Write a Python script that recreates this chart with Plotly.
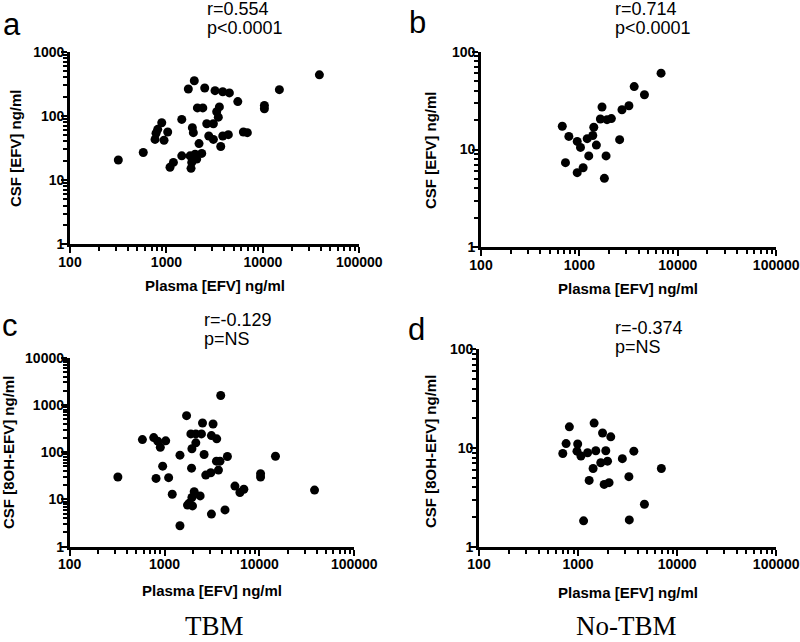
import plotly.graph_objects as go

W, H = 800, 642

# ---------------- data ----------------
# Panel a: TBM, CSF [EFV] vs Plasma [EFV]
a_plasma = [317, 575, 762, 780, 812, 894, 944, 1031, 1089, 1181, 1442, 1442, 1687, 1758, 1799,
            1829, 1857, 1901, 1901, 1945, 1982, 2061, 2094, 2178, 2324, 2384, 2495, 2618, 2749,
            3068, 3068, 3190, 3321, 3452, 3540, 3657, 3836, 3836, 4385, 4495, 5495, 6280, 6905,
            10370, 10370, 14830, 38560]
a_csf = [20.5, 26.9, 43, 53.5, 61.6, 78, 41.7, 56, 15.8, 18.8, 88, 23.8, 262, 23.8, 15.2,
         18.8, 65.5, 54.8, 21.2, 352, 25.3, 21.2, 133, 37, 26, 133, 272, 75.5, 48.6,
         75.5, 43, 247, 116, 95.5, 138, 33.3, 238, 48.6, 51, 228, 167, 56, 54.8,
         145, 129, 256, 436]

# Panel b: No-TBM, CSF [EFV] vs Plasma [EFV]
b_plasma = [670, 722, 781, 950, 950, 1026, 1091, 1200, 1245, 1368, 1400, 1488, 1633, 1698,
            1794, 1866, 1909, 2113, 2564, 2708, 3186, 3605, 4581, 6760]
b_csf = [17.3, 7.33, 13.6, 12.1, 5.8, 10.5, 6.5, 12.9, 8.6, 13.9, 16.9, 11.1, 20.5, 27.2,
         5.07, 8.6, 20.2, 20.7, 12.6, 25.5, 28, 44, 36.3, 60.3]

# Panel c: TBM, CSF [8OH-EFV] vs Plasma [EFV]
c_plasma = [322, 584, 769, 813, 847, 902, 955, 1028, 1104, 1205, 1453, 1453, 1706, 1745, 1817,
            1893, 1925, 1942, 1942, 1970, 2053, 2135, 2135, 2372, 2449, 2512, 2612, 2717, 3069,
            3118, 3118, 3245, 3523, 3546, 3698, 3840, 3908, 4337, 4595, 5517, 6230, 6853,
            10280, 10280, 14760, 38100]
c_csf = [29.8, 185, 204, 27.9, 171, 127, 50.7, 174, 28.9, 12.9, 86.5, 2.77, 593, 7.6, 8.3,
         244, 46, 118, 11, 7.3, 14.6, 244, 158, 11.9, 244, 416, 89.5, 32.8, 36.8,
         225, 4.9, 396, 64.7, 192, 41.8, 64.7, 1585, 6.0, 81, 19.2, 14, 16.4,
         35, 29.8, 82, 15.8]

# Panel d: No-TBM, CSF [8OH-EFV] vs Plasma [EFV]
d_plasma = [701, 757, 817, 975, 991, 1069, 1137, 1248, 1294, 1419, 1452, 1510, 1695, 1766,
            1834, 1905, 1983, 2055, 2138, 2799, 3259, 3289, 3656, 4676, 6930]
d_csf = [8.8, 11.1, 16.4, 9.3, 11.0, 8.3, 1.83, 8.95, 4.7, 6.2, 17.9, 9.4, 7.1, 14.2,
         4.28, 9.4, 7.36, 4.46, 13.0, 7.8, 5.13, 1.87, 9.3, 2.69, 6.2]

x_tickvals = [100, 1000, 10000, 100000]
x_ticktext = ["100", "1000", "10000", "100000"]
y_tickvals_3 = [1, 10, 100, 1000]
y_ticktext_3 = ["1", "10", "100", "1000"]
y_tickvals_2 = [1, 10, 100]
y_ticktext_2 = ["1", "10", "100"]
y_tickvals_4 = [1, 10, 100, 1000, 10000]
y_ticktext_4 = ["1", "10", "100", "1000", "10000"]

panel_letters = ["a", "b", "c", "d"]
stats_r = ["r=0.554", "r=0.714", "r=-0.129", "r=-0.374"]
stats_p = ["p<0.0001", "p<0.0001", "p=NS", "p=NS"]
x_title = "Plasma [EFV] ng/ml"
y_titles = ["CSF [EFV] ng/ml", "CSF [EFV] ng/ml", "CSF [8OH-EFV] ng/ml", "CSF [8OH-EFV] ng/ml"]
group_labels = ["TBM", "No-TBM"]

# ---------------- layout helpers (pixel -> paper) ----------------
def px(x):
    return x / W

def py(y):
    return 1 - y / H

def minor_vals(lo_exp, hi_exp):
    return [m * 10 ** e for e in range(lo_exp, hi_exp) for m in range(2, 10)]

# plot boxes in pixels: (left, right, top, bottom)
boxes = [
    (70, 359.3, 51.7, 244.2),
    (481, 776.2, 51.7, 247.3),
    (69.7, 354.3, 357.7, 546.7),
    (479, 776.2, 349.4, 546.7),
]
yranges = [[0, 3], [0, 2], [0, 4], [0, 2]]
yticks = [(y_tickvals_3, y_ticktext_3), (y_tickvals_2, y_ticktext_2),
          (y_tickvals_4, y_ticktext_4), (y_tickvals_2, y_ticktext_2)]
data_x = [a_plasma, b_plasma, c_plasma, d_plasma]
data_y = [a_csf, b_csf, c_csf, d_csf]

tickfont = dict(family="Liberation Sans, Arial, sans-serif", size=14, color="black", weight="bold")

def axis_style(rng, standoff):
    return dict(
        type="log", showline=True, linewidth=2.8, linecolor="black", mirror=False,
        ticks="outside", ticklen=6, tickwidth=2.2, tickcolor="black", automargin=False,
        showgrid=False, zeroline=False, tickfont=tickfont, fixedrange=True,
        ticklabelstandoff=standoff,
        minor=dict(ticks="outside", ticklen=4, tickwidth=1.5, tickcolor="black",
                   tickmode="array", tickvals=minor_vals(rng[0], rng[1]), showgrid=False),
    )

fig = go.Figure()
layout = dict(width=W, height=H, margin=dict(l=0, r=0, t=0, b=0, autoexpand=False),
              paper_bgcolor="white", plot_bgcolor="white", showlegend=False)

for i in range(4):
    n = "" if i == 0 else str(i + 1)
    l, r, t, b = boxes[i]
    xa = axis_style([2, 5], -3)
    xa.update(domain=[px(l), px(r)], range=[2, 5], anchor="y" + n,
              tickmode="array", tickvals=x_tickvals, ticktext=x_ticktext)
    ya = axis_style(yranges[i], -6)
    ya.update(domain=[py(b), py(t)], range=yranges[i], anchor="x" + n,
              tickmode="array", tickvals=yticks[i][0], ticktext=yticks[i][1])
    layout["xaxis" + n] = xa
    layout["yaxis" + n] = ya
    fig.add_trace(go.Scatter(
        x=data_x[i], y=data_y[i], mode="markers",
        marker=dict(size=9, color="black", line=dict(width=0)),
        xaxis="x" + n, yaxis="y" + n, cliponaxis=False, hoverinfo="skip",
    ))

fig.update_layout(**layout)

# ---------------- annotations ----------------
def add_text(text, x, y, size, family="Liberation Sans, Arial, sans-serif", xanchor="center",
             weight="normal", angle=0, yanchor="middle"):
    fig.add_annotation(text=text, x=px(x), y=py(y), xref="paper", yref="paper",
                       xanchor=xanchor, yanchor=yanchor, showarrow=False, textangle=angle,
                       borderpad=0,
                       font=dict(family=family, size=size, color="black", weight=weight))

letter_pos = [(12, 24), (417, 23), (10, 326), (416, 330)]
r_pos = [(206, 9), (614, 9), (203, 320), (614, 328)]
p_pos = [(206, 28), (614, 28), (203, 339), (614, 347)]
xt_pos = [(215, 286), (628, 288), (212, 590), (628, 592)]
yt_pos = [(15, 148), (430, 150), (8, 453), (430, 452)]

for i in range(4):
    add_text(panel_letters[i], *letter_pos[i], size=31)
    add_text(stats_r[i], *r_pos[i], size=18, xanchor="left")
    add_text(stats_p[i], *p_pos[i], size=18, xanchor="left")
    add_text(x_title, *xt_pos[i], size=15, weight="bold")
    add_text(y_titles[i], *yt_pos[i], size=15, weight="bold", angle=-90)

add_text(group_labels[0], 214, 642, 27, family="Liberation Serif, Times New Roman, serif",
         yanchor="bottom")
add_text(group_labels[1], 626, 642, 27, family="Liberation Serif, Times New Roman, serif",
         yanchor="bottom")

fig.write_html("out.html", config={"displayModeBar": False},
               post_script="document.body.style.margin='0';")
